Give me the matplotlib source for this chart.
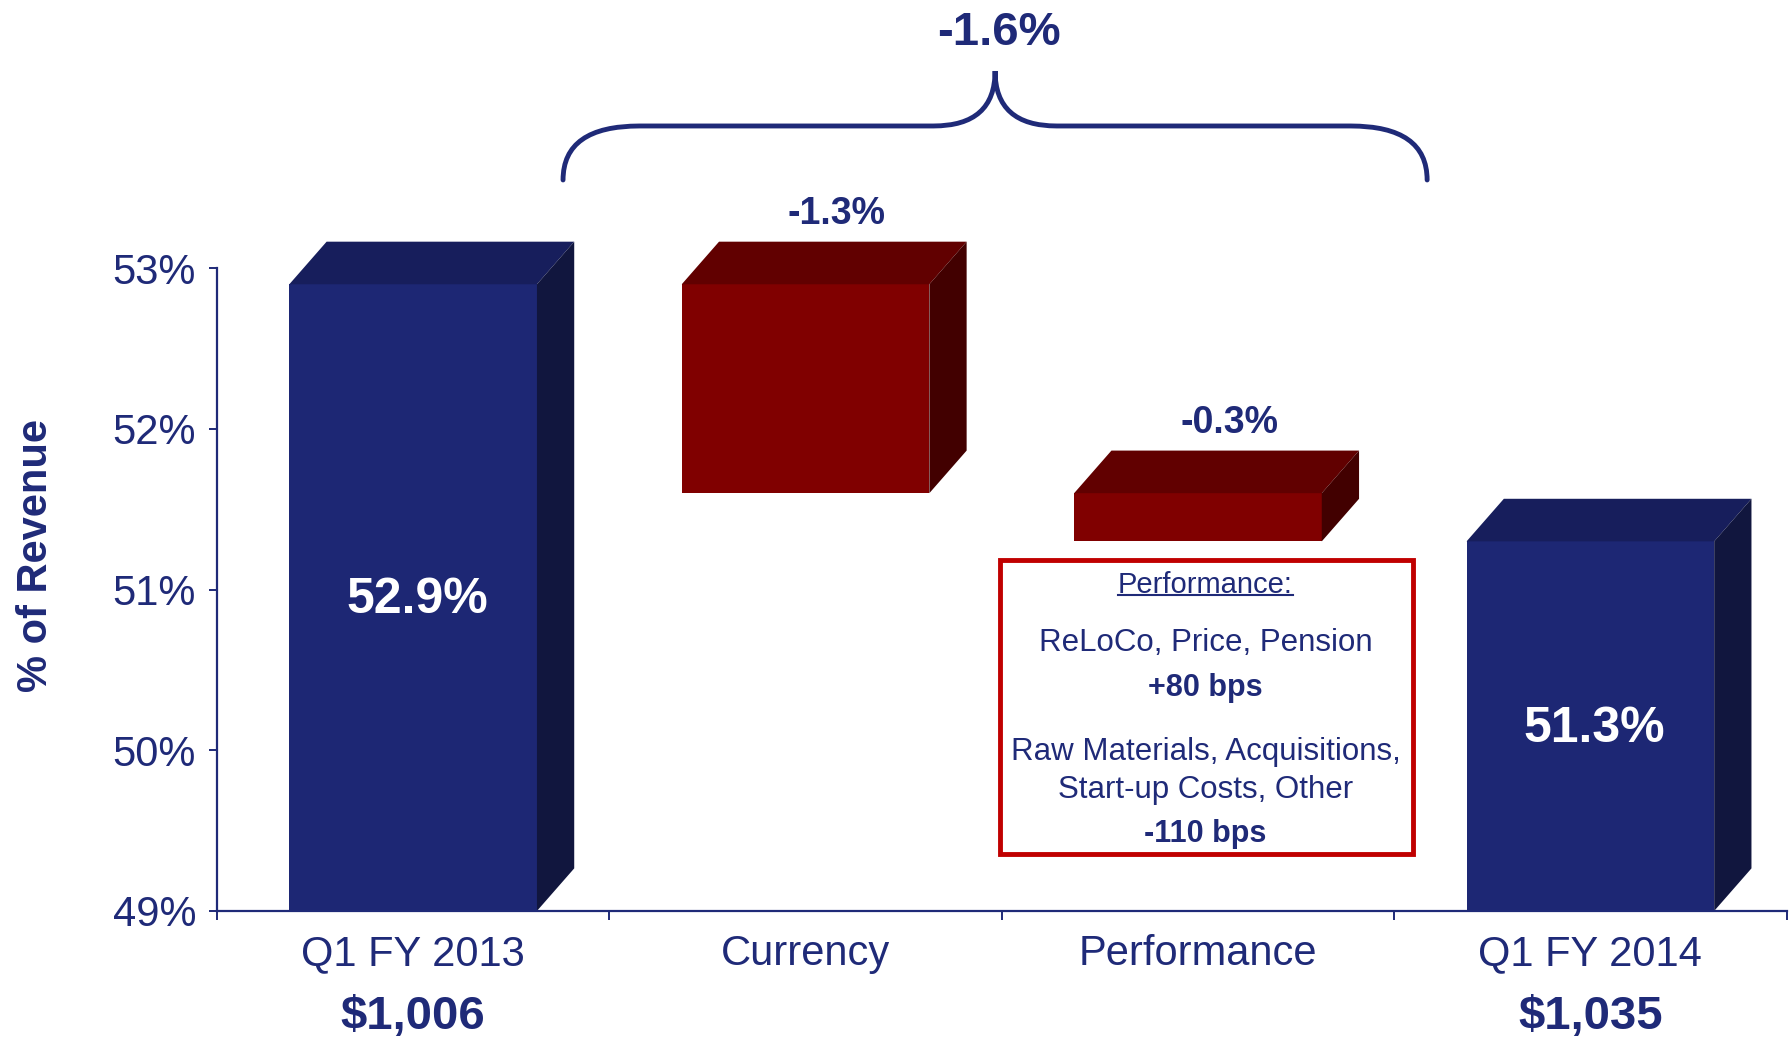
import matplotlib
matplotlib.use("Agg")
import matplotlib.pyplot as plt
from matplotlib.patches import Polygon, Rectangle
from matplotlib.path import Path
from matplotlib.patches import PathPatch
from matplotlib.lines import Line2D

plt.rcParams['font.family'] = ['Liberation Sans', 'DejaVu Sans']

# 数据
categories = ['Q1 FY 2013', 'Currency', 'Performance', 'Q1 FY 2014']
start_val = 52.9
changes = [-1.3, -0.3]
end_val = 51.3
total_change = -1.6
revenue_labels = ['$1,006', '', '', '$1,035']
y_ticks = [49, 50, 51, 52, 53]
box_lines = ['ReLoCo, Price, Pension', '+80 bps',
             'Raw Materials, Acquisitions,', 'Start-up Costs, Other', '-110 bps']

NAVY = '#1F2A78'
blue_faces = ('#1D2774', '#171E5C', '#11163E')   # front, top, side
red_faces = ('#800000', '#610000', '#420000')

# 瀑布图的底和高
bottoms = [49, start_val + changes[0], start_val + sum(changes), 49]
tops = [start_val, start_val, start_val + changes[0], end_val]
face_sets = [blue_faces, red_faces, red_faces, blue_faces]

fig = plt.figure(figsize=(17.9, 10.4), dpi=100)
ax = fig.add_axes([0, 0, 1, 1])
ax.set_xlim(-1.0528, 3.5087)
ax.set_ylim(48.197, 54.669)

bw = 0.631   # 正面宽度
dx = 0.095   # 立体深度
dy = 0.265

x = list(range(len(categories)))
for i in x:
    front, top_c, side_c = face_sets[i]
    b, t = bottoms[i], tops[i]
    ax.bar(i, t - b, bottom=b, width=bw, color=front, zorder=3)
    x0, x1 = i - bw / 2, i + bw / 2
    ax.add_patch(Polygon([(x0, t), (x1, t), (x1 + dx, t + dy), (x0 + dx, t + dy)],
                         closed=True, facecolor=top_c, edgecolor='none', zorder=3))
    ax.add_patch(Polygon([(x1, b), (x1 + dx, b + dy), (x1 + dx, t + dy), (x1, t)],
                         closed=True, facecolor=side_c, edgecolor='none', zorder=3))

# 柱内的百分比
for i, v in [(0, start_val), (3, end_val)]:
    ax.text(i + 0.01, (49 + v) / 2 - 0.015, f'{v:.1f}%', color='white', fontsize=36,
            fontweight='bold', ha='center', va='center', zorder=5)

# 变化量标签
for i, c in zip([1, 2], changes):
    ax.text(i + 0.08, tops[i] + dy + 0.17, f'{c:.1f}%', color=NAVY, fontsize=27,
            fontweight='bold', ha='center', va='center')

# 轴
for s in ['top', 'right']:
    ax.spines[s].set_visible(False)
ax.spines['left'].set_position(('data', -0.5))
ax.spines['left'].set_bounds(49, 53)
ax.spines['bottom'].set_position(('data', 49))
ax.spines['bottom'].set_bounds(-0.5, 3.5)
for s in ['left', 'bottom']:
    ax.spines[s].set_color(NAVY)
    ax.spines[s].set_linewidth(1.6)
    ax.spines[s].set_zorder(4)

ax.set_yticks(y_ticks)
ax.set_yticklabels([f'{v}%' for v in y_ticks])
ax.tick_params(axis='y', direction='out', length=6, width=1.4, color=NAVY,
               labelsize=30, labelcolor=NAVY, pad=9)
ax.set_xticks(x)
ax.set_xticklabels([])
ax.tick_params(axis='x', which='major', length=0)
ax.set_xticks([-0.5, 0.5, 1.5, 2.5, 3.5], minor=True)
ax.tick_params(axis='x', which='minor', direction='out', length=6.5, width=1.4, color=NAVY)

for i, name in enumerate(categories):
    ax.text(i, 48.73, name, color=NAVY, fontsize=30, ha='center', va='center')
    if revenue_labels[i]:
        ax.text(i, 48.34, revenue_labels[i], color=NAVY, fontsize=34,
                fontweight='bold', ha='center', va='center')

fig.text(36 / 1790, 1 - 556 / 1040, '% of Revenue', rotation=90, color=NAVY,
         fontsize=30, fontweight='bold', ha='center', va='center')

# 大括号
xl, xr = 0.382, 2.584
xc = (xl + xr) / 2
yb, yh, yt = 53.549, 53.885, 54.227
rx, cx = 0.195, 0.157
verts = [(xl, yb), (xl, yh), (xl + rx, yh),
         (xc - cx, yh),
         (xc, yh), (xc, yt),
         (xc, yh), (xc + cx, yh),
         (xr - rx, yh),
         (xr, yh), (xr, yb)]
codes = [Path.MOVETO, Path.CURVE3, Path.CURVE3,
         Path.LINETO,
         Path.CURVE3, Path.CURVE3,
         Path.CURVE3, Path.CURVE3,
         Path.LINETO,
         Path.CURVE3, Path.CURVE3]
ax.add_patch(PathPatch(Path(verts, codes), facecolor='none', edgecolor=NAVY,
                       lw=3.5, capstyle='round'))
ax.text(xc + 0.01, 54.465, f'{total_change:.1f}%', color=NAVY, fontsize=34,
        fontweight='bold', ha='center', va='center')

# 红框说明
ax.add_patch(Rectangle((1.496, 49.355), 2.548 - 1.496, 51.181 - 49.355,
                       facecolor='white', edgecolor='#C00000', lw=3.5, zorder=4))
bx = 2.019
ttl = ax.text(bx, 51.03, 'Performance:', color=NAVY, fontsize=21,
              ha='center', va='center', zorder=5)
box_y = [50.67, 50.39, 49.99, 49.755, 49.48]
for s, yy in zip(box_lines, box_y):
    bold = 'bps' in s
    ax.text(bx, yy, s, color=NAVY, fontsize=22.5 if not bold else 22,
            fontweight='bold' if bold else 'normal', ha='center', va='center', zorder=5)

# 下划线
fig.canvas.draw()
bb = ttl.get_window_extent(fig.canvas.get_renderer())
fig.add_artist(Line2D([bb.x0 / 1790, bb.x1 / 1790],
                      [(bb.y0 + 4) / 1040, (bb.y0 + 4) / 1040],
                      color=NAVY, lw=1.5, transform=fig.transFigure, zorder=6))

fig.savefig('out.png', dpi=100)
